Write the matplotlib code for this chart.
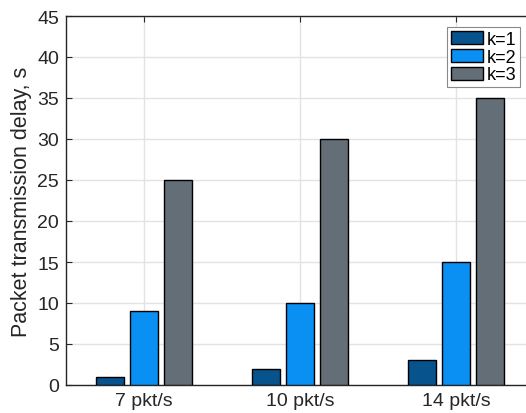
import matplotlib
matplotlib.use("Agg")
import matplotlib.pyplot as plt
import numpy as np

categories = ["7 pkt/s", "10 pkt/s", "14 pkt/s"]
series_labels = ["k=1", "k=2", "k=3"]
k1 = [1, 2, 3]
k2 = [9, 10, 15]
k3 = [25, 30, 35]
yticks = [0, 5, 10, 15, 20, 25, 30, 35, 40, 45]

colors = ["#07538d", "#0a8ff3", "#636e77"]

plt.rcParams['font.family'] = ['Liberation Sans', 'DejaVu Sans']

W, H = 526, 414
fig = plt.figure(figsize=(W / 100, H / 100), dpi=100)
ax = fig.add_axes([66 / W, (H - 386) / H, 468 / W, 369 / H])

x = np.arange(1, len(categories) + 1)
width = 0.18
offsets = [-0.22, 0.0, 0.22]
for vals, off, c, lab in zip([k1, k2, k3], offsets, colors, series_labels):
    ax.bar(x + off, vals, width, color=c, edgecolor="black", linewidth=1.0,
           label=lab, zorder=3)

ax.set_xlim(0.5, 3.5)
ax.set_ylim(0, 45)
ax.set_xticks(x)
ax.set_xticklabels(categories)
ax.set_yticks(yticks)
ax.grid(True, color="#e3e3e3", linewidth=1.0, zorder=0)
ax.set_axisbelow(True)
ax.tick_params(direction="in", length=4, labelsize=14, colors="#262626",
               top=True, right=False, pad=5)
for s in ["left", "bottom", "top"]:
    ax.spines[s].set_color("#262626")
    ax.spines[s].set_linewidth(1.0)
ax.spines["right"].set_visible(False)
ax.set_ylabel("Packet transmission delay, s", fontsize=15.5, color="#262626", labelpad=4)

leg = ax.legend(loc="upper right", bbox_to_anchor=(520 / W, 1 - 28 / H),
                bbox_transform=fig.transFigure, fontsize=13, frameon=True,
                fancybox=False, edgecolor="#8a8a8a", framealpha=1,
                handlelength=1.8, handleheight=0.75, handletextpad=0.2,
                labelspacing=0.05, borderpad=0.2, borderaxespad=0)
leg.get_frame().set_linewidth(0.8)

fig.savefig("out.png", dpi=100)
